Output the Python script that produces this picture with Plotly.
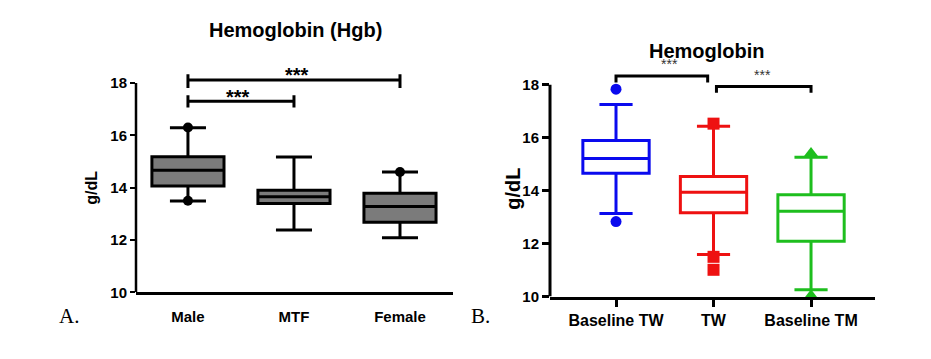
import plotly.graph_objects as go

# ---- Panel A data ----
a_cats = ["Male", "MTF", "Female"]
a_q1 = [14.07, 13.40, 12.68]
a_med = [14.67, 13.65, 13.28]
a_q3 = [15.18, 13.90, 13.79]
a_lo = [13.49, 12.38, 12.09]
a_hi = [16.29, 15.17, 14.60]
a_out_x = ["Male", "Male", "Female"]
a_out_y = [16.30, 13.50, 14.60]
a_sig = [("Male", "MTF", 17.31, 17.07, 17.54), ("Male", "Female", 18.12, 17.81, 18.34)]

# ---- Panel B data ----
b_cats = ["Baseline TW", "TW", "Baseline TM"]
b_q1 = [14.66, 13.16, 12.09]
b_med = [15.21, 13.94, 13.22]
b_q3 = [15.89, 14.53, 13.84]
b_lo = [13.14, 11.59, 10.26]
b_hi = [17.25, 16.43, 15.26]
b_colors = ["#0a0aee", "#ee1111", "#1ebe1e"]
b_symbols = ["circle", "square", "triangle-up"]
b_sizes = [11, 12, 12]
b_out = [[17.83, 12.83], [16.53, 11.50, 11.01], [15.42, 10.05]]

W, H = 931, 359
fig = go.Figure()

for i, c in enumerate(a_cats):
    fig.add_trace(go.Box(
        x=[c], q1=[a_q1[i]], median=[a_med[i]], q3=[a_q3[i]],
        lowerfence=[a_lo[i]], upperfence=[a_hi[i]],
        fillcolor="#7b7b7b", line=dict(color="black", width=3),
        width=0.68, whiskerwidth=0.5, boxpoints=False,
        xaxis="x", yaxis="y", showlegend=False))
fig.add_trace(go.Scatter(x=a_out_x, y=a_out_y, mode="markers",
                         marker=dict(color="black", size=10),
                         xaxis="x", yaxis="y", showlegend=False))

for i, c in enumerate(b_cats):
    fig.add_trace(go.Box(
        x=[c], q1=[b_q1[i]], median=[b_med[i]], q3=[b_q3[i]],
        lowerfence=[b_lo[i]], upperfence=[b_hi[i]],
        fillcolor="white", line=dict(color=b_colors[i], width=3),
        width=0.68, whiskerwidth=0.5, boxpoints=False,
        xaxis="x2", yaxis="y2", showlegend=False))
    fig.add_trace(go.Scatter(x=[c] * len(b_out[i]), y=b_out[i], mode="markers",
                             marker=dict(color=b_colors[i], size=b_sizes[i], symbol=b_symbols[i]),
                             cliponaxis=False,
                             xaxis="x2", yaxis="y2", showlegend=False))

shapes = []
# y-axis lines (only up to 18)
shapes.append(dict(type="line", xref="x domain", yref="y", x0=0, x1=0, y0=10, y1=18,
                   line=dict(color="black", width=2.5)))
shapes.append(dict(type="line", xref="x2 domain", yref="y2", x0=0, x1=0, y0=10, y1=18,
                   line=dict(color="black", width=3)))

# Panel A brackets
ai = {c: i for i, c in enumerate(a_cats)}
for c0, c1, yb, ylo, yhi in a_sig:
    x0, x1 = ai[c0], ai[c1]
    shapes.append(dict(type="line", xref="x", yref="y", x0=x0, x1=x1, y0=yb, y1=yb,
                       line=dict(color="black", width=3)))
    for xx in (x0, x1):
        shapes.append(dict(type="line", xref="x", yref="y", x0=xx, x1=xx, y0=ylo, y1=yhi,
                           line=dict(color="black", width=3)))

# Panel B brackets
b_sig = [(0.0, 0.94, 18.33, 18.08), (1.03, 2.0, 17.93, 17.70)]
for x0, x1, ytop, ybot in b_sig:
    shapes.append(dict(type="path", xref="x2", yref="y2",
                       path=f"M {x0},{ybot} L {x0},{ytop} L {x1},{ytop} L {x1},{ybot}",
                       line=dict(color="black", width=3)))

def ann(text, x, y, size, family="Liberation Sans", angle=0, xref="paper", yref="paper", color="black"):
    return dict(text=text, x=x, y=y, xref=xref, yref=yref, xanchor="center", yanchor="middle",
                textangle=angle, showarrow=False, font=dict(family=family, size=size, color=color))

annotations = [
    ann("<b>Hemoglobin (Hgb)</b>", 295 / W, 1 - 31 / H, 20),
    ann("<b>Hemoglobin</b>", 707 / W, 1 - 52 / H, 20),
    ann("<b>g/dL</b>", 92 / W, 1 - 192 / H, 16, angle=-90),
    ann("<b>g/dL</b>", 513 / W, 1 - 193 / H, 20, angle=-90),
    ann("A.", 69 / W, 1 - 323 / H, 21, family="Liberation Serif"),
    ann("B.", 480 / W, 1 - 323 / H, 21, family="Liberation Serif"),
    ann("<b>***</b>", 297 / W, 1 - 77 / H, 20),
    ann("<b>***</b>", 238 / W, 1 - 99 / H, 20),
    ann("***", 669 / W, 1 - 65.5 / H, 14, color="#333333"),
    ann("***", 762 / W, 1 - 76.5 / H, 14, color="#333333"),
]

tickfont_a = dict(family="Liberation Sans", size=15, color="black", weight="bold")
tickfont_b = dict(family="Liberation Sans", size=15, color="black", weight="bold")

fig.update_layout(
    width=W, height=H, margin=dict(l=0, r=0, t=0, b=0),
    paper_bgcolor="white", plot_bgcolor="rgba(0,0,0,0)",
    shapes=shapes, annotations=annotations,
    xaxis=dict(domain=[136 / W, 453 / W], type="category", categoryorder="array",
               categoryarray=a_cats, range=[-0.49, 2.5], showline=True, linecolor="black",
               linewidth=2.5, ticks="", showgrid=False, zeroline=False, ticklabelstandoff=9,
               tickfont=dict(family="Liberation Sans", size=15, color="black", weight="bold"),
               anchor="y"),
    yaxis=dict(domain=[60 / H, 1 - (299 - 8.6 * 26.75) / H], range=[10, 18.6],
               tickvals=[10, 12, 14, 16, 18], ticks="outside", ticklen=5, tickwidth=2,
               tickcolor="black", showline=False, showgrid=False, zeroline=False,
               tickfont=tickfont_a, anchor="x"),
    xaxis2=dict(domain=[550 / W, 875 / W], type="category", categoryorder="array",
                categoryarray=b_cats, range=[-0.677, 2.656], showline=True, linecolor="black",
                linewidth=3, ticks="outside", ticklen=7, tickwidth=3, tickcolor="black",
                showgrid=False, zeroline=False,
                tickfont=dict(family="Liberation Sans", size=16, color="black", weight="bold"),
                anchor="y2"),
    yaxis2=dict(domain=[55.7 / H, 1 - (303.3 - 8.5 * 27.08) / H], range=[10, 18.5],
                tickvals=[10, 12, 14, 16, 18], ticks="outside", ticklen=7, tickwidth=3,
                tickcolor="black", showline=False, showgrid=False, zeroline=False,
                tickfont=tickfont_b, anchor="x2"),
)

fig.write_html("out.html", config={"displayModeBar": False},
               post_script="document.body.style.margin='0';document.body.style.overflow='hidden';")
